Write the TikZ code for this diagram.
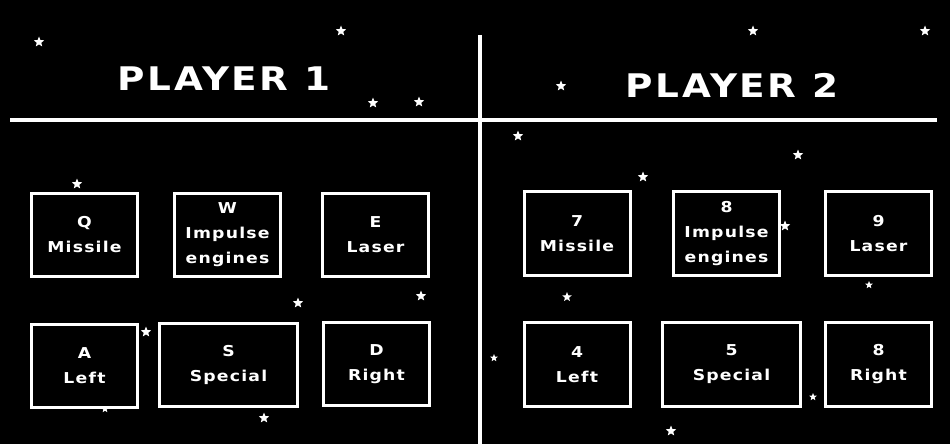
\documentclass[tikz,border=0pt]{standalone}
\usepackage{fontspec}
\usetikzlibrary{shapes.geometric}
\newfontfamily\gamefont[FakeStretch=1.15,LetterSpace=8]{DejaVu Sans}
\tikzset{
  keybox/.style={draw=white, fill=black, line width=3pt, inner sep=0pt,
    minimum width=106pt, minimum height=83pt, align=center, text=white,
    font=\gamefont\bfseries\fontsize{15}{25}\selectfont},
  widebox/.style={keybox, minimum width=138pt},
  title/.style={text=white, inner sep=0pt, font=\gamefont\bfseries\fontsize{32.5}{33}\selectfont},
  sparkle/.style={star, star points=5, star point ratio=2.3, fill=white, inner sep=0pt, minimum size=#1},
  sparkle/.default=10pt
}
\begin{document}
\begin{tikzpicture}[x=1pt, y=-1pt]
                \fill[black] (0,0) rectangle (950,444);
                \useasboundingbox (0,0) rectangle (950,444);
                \foreach \sx/\sy/\ss in {39/42/11, 341/31/11, 373/103/11, 419/102/11,
                    77/184/11, 298/303/11, 421/296/11, 146/332/11, 105/409/8, 264/418/11,
                    753/31/11, 925/31/11, 561/86/11, 518/136/11, 798/155/11,
                    643/177/11, 785/226/11, 567/297/10, 869/285/8, 494/358/8,
                    813/397/8, 671/431/11}
                    \node[sparkle=\ss pt] at (\sx,\sy) {};
                \coordinate (top) at (480,35);
                \coordinate (bottom) at (480,444);
                \coordinate (west) at (10,120);
                \coordinate (east) at (937,120);
                \draw[white, line width=3.5pt] (top) -- (bottom);
                \draw[white, line width=3.5pt] (west) -- (east);
                \node[title] (title1) at (224,79) {PLAYER 1};
                \node[title] (title2) at (732,85) {PLAYER 2};
                \node[keybox] (q) at (84.5,235) {Q\\Missile};
                \node[keybox] (w) at (227.5,235) {W\\Impulse\\engines};
                \node[keybox] (e) at (375.5,235) {E\\Laser};
                \node[keybox] (a) at (84.5,365.5) {A\\Left};
                \node[widebox] (s) at (228.5,365) {S\\Special};
                \node[keybox] (d) at (376.5,364) {D\\Right};
                \node[keybox, minimum height=84pt] (seven) at (577,233.5) {7\\Missile};
                \node[keybox, minimum height=84pt] (eight) at (726.5,233.5) {8\\Impulse\\engines};
                \node[keybox, minimum height=84pt] (nine) at (878.5,233.5) {9\\Laser};
                \node[keybox, minimum height=84pt] (four) at (577,364.5) {4\\Left};
                \node[widebox, minimum height=84pt] (five) at (731.5,364.5) {5\\Special};
                \node[keybox, minimum height=84pt] (six) at (878.5,364.5) {8\\Right};
            \end{tikzpicture}
\end{document}
